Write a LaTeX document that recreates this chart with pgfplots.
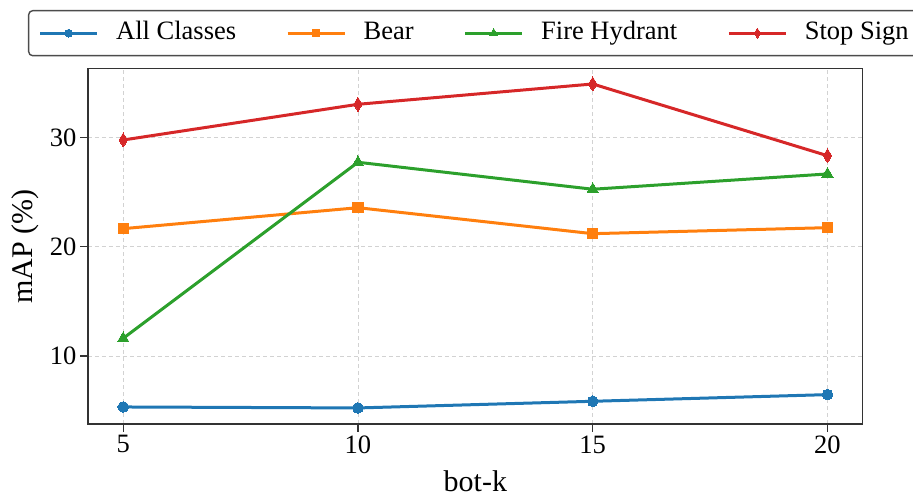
\documentclass[border=0pt]{standalone}
\usepackage{pgfplots}
\pgfplotsset{compat=1.18}
\usepackage{fontspec}
\setmainfont{Liberation Serif}

\definecolor{tabblue}{HTML}{1F77B4}
\definecolor{taborange}{HTML}{FF7F0E}
\definecolor{tabgreen}{HTML}{2CA02C}
\definecolor{tabred}{HTML}{D62728}

\begin{document}
\begin{tikzpicture}
\begin{axis}[
    name=ax,
    at={(0,0)}, anchor=south west,
    scale only axis,
    width=774.7pt, height=355.3pt,
    xmin=4.25, xmax=20.75,
    ymin=3.77, ymax=36.31,
    xtick={5,10,15,20},
    ytick={10,20,30},
    xlabel={bot-k},
    ylabel={mAP (\%)},
    xlabel style={font=\fontsize{30}{34}\selectfont, at={(axis description cs:0.5,-0.189)}, anchor=base},
    ylabel style={font=\fontsize{30}{34}\selectfont, at={(axis description cs:-0.0813,0.5)}, anchor=center},
    ticklabel style={font=\fontsize{26.5}{30}\selectfont},
    /pgf/number format/assume math mode=true,
    tick align=outside,
    major tick length=8pt,
    tick style={line width=1.4pt, color=black!80},
    xtick pos=bottom, ytick pos=left,
    axis line style={line width=1.4pt, color=black!80},
    grid=major,
    major grid style={dashed, dash pattern=on 4pt off 3pt, line width=0.9pt, color=gray!35},
    every axis plot/.append style={line width=3pt},
    legend columns=4,
    legend cell align=left,
    legend image code/.code={
        \draw[mark repeat=2, mark phase=2, #1, every mark/.append style={scale=0.72}] plot coordinates {(0pt,0pt) (28.5pt,0pt) (57pt,0pt)};
    },
    legend style={
        at={(axis description cs:-0.07745,1.1652)}, anchor=north west,
        draw=black!70, line width=1.4pt, rounded corners=4pt,
        font=\fontsize{26.5}{30}\selectfont,
        inner xsep=10pt, inner ysep=10pt,
        nodes={inner sep=0pt, text height=19pt, text depth=6pt},
        /tikz/every odd column/.append style={column sep=17.5pt},
        /tikz/every even column/.append style={column sep=50pt},
    },
]
\addplot[color=tabblue, mark=*, mark size=5.3pt, mark options={solid, line width=0pt}]
    coordinates {(5,5.33) (10,5.24) (15,5.85) (20,6.46)};
\addlegendentry{All Classes}
\addplot[color=taborange, mark=square*, mark size=5.2pt, mark options={solid, line width=0pt}]
    coordinates {(5,21.66) (10,23.58) (15,21.20) (20,21.75)};
\addlegendentry{Bear}
\addplot[color=tabgreen, mark=triangle*, mark size=6.5pt, mark options={solid, line width=0pt}]
    coordinates {(5,11.62) (10,27.74) (15,25.27) (20,26.67)};
\addlegendentry{Fire Hydrant}
\addplot[color=tabred, mark=diamond*, mark size=7pt, mark options={solid, line width=0pt, xscale=0.8}]
    coordinates {(5,29.78) (10,33.05) (15,34.91) (20,28.34)};
\addlegendentry{Stop Sign}
\end{axis}
\pgfresetboundingbox
\path[use as bounding box] ([shift={(-88pt,-73pt)}]ax.south west) rectangle ([shift={(825pt,424pt)}]ax.south west);
\end{tikzpicture}
\end{document}
